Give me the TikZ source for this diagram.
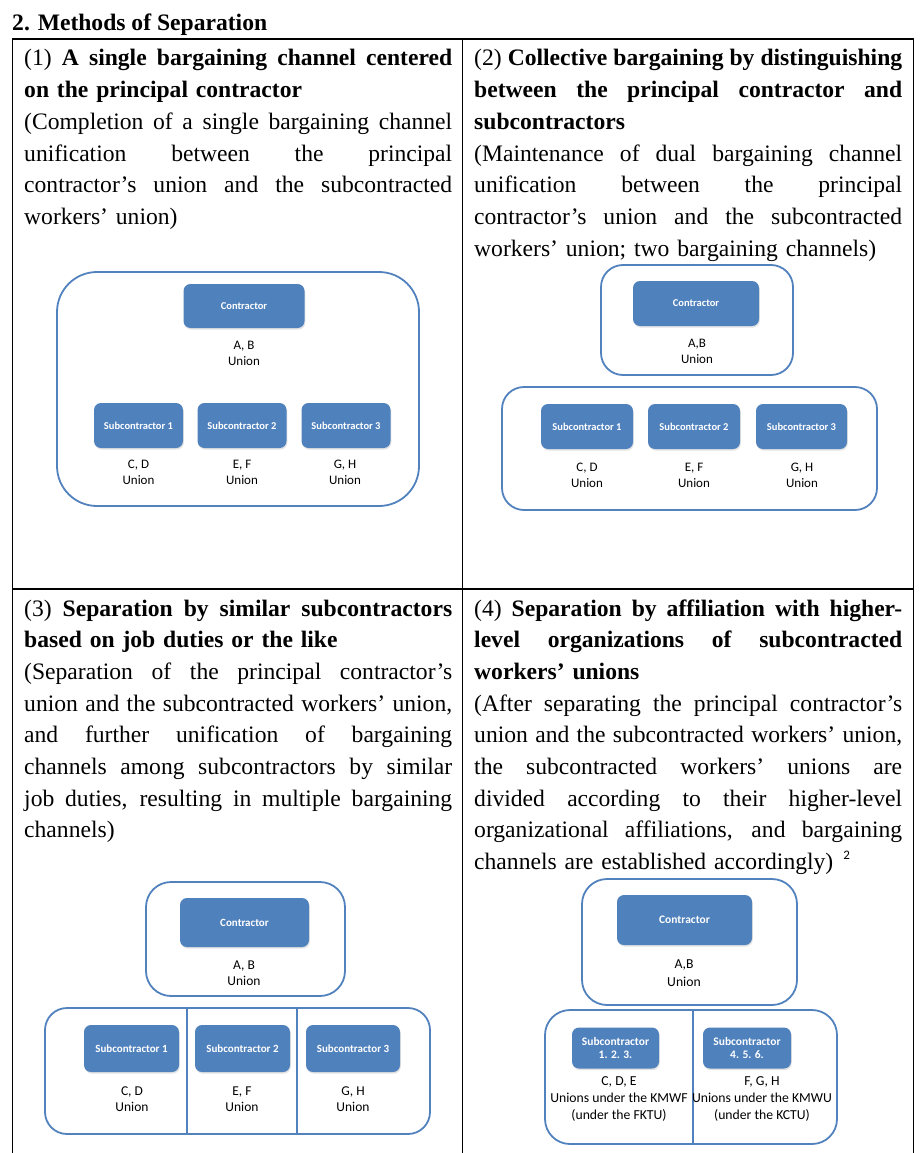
\documentclass[tikz,border=0pt]{standalone}
\usepackage{fontspec}
\setmainfont{Liberation Serif}
\newfontfamily\calfont{Carlito}
\usetikzlibrary{shadows}
\definecolor{obl}{HTML}{4F81BD}
\definecolor{oline}{HTML}{5282BE}
\newcommand{\jl}[1]{\makebox[428pt][s]{\spaceskip=0.25em plus 1em minus 0.12em\xspaceskip=0pt #1}\\}
\tikzset{
  txt/.style={anchor=base west, inner sep=0pt, text width=436pt, align=left,
    font=\fontsize{23.6}{31.7}\selectfont},
  ring/.style={draw=oline, line width=1.8pt, fill=white, inner sep=0pt},
  bluebox/.style={fill=obl, rounded corners=7pt, text=white, inner sep=0pt, align=center,
    font=\calfont\bfseries\fontsize{10.5}{13}\selectfont,
    drop shadow={opacity=0.22, shadow xshift=0.8pt, shadow yshift=-1.6pt}},
  lab/.style={font=\calfont\fontsize{13}{16}\selectfont, align=center, inner sep=0pt},
  divider/.style={draw=oline, line width=1.8pt},
  grid/.style={line width=1.3pt, black}
}
\begin{document}
\begin{tikzpicture}[x=1pt,y=-1pt]
\useasboundingbox (0,0) rectangle (920,1153);
% title
\node[anchor=base west, inner sep=0pt, font=\fontsize{23.6}{28}\selectfont\bfseries] (title) at (12,31) {2. Methods of Separation};
% table
\draw[grid] (12.5,1153) -- (12.5,39) -- (913.7,39) -- (913.7,1153);
\draw[grid] (462.5,39) -- (462.5,1153);
\draw[grid] (12.5,589) -- (913.7,589);
% cell texts
\node[txt] (t1) at (24,66) {\jl{(1) \textbf{A single bargaining channel centered}}\textbf{on the principal contractor}\\\jl{(Completion of a single bargaining channel}\jl{unification between the principal}\jl{contractor’s union and the subcontracted}workers’ union)};
\node[txt] (t2) at (474,66) {\jl{(2) \textbf{Collective bargaining by distinguishing}}\jl{\textbf{between the principal contractor and}}\textbf{subcontractors}\\\jl{(Maintenance of dual bargaining channel}\jl{unification between the principal}\jl{contractor’s union and the subcontracted}workers’ union; two bargaining channels)};
\node[txt] (t3) at (24,616) {\jl{(3) \textbf{Separation by similar subcontractors}}\textbf{based on job duties or the like}\\\jl{(Separation of the principal contractor’s}\jl{union and the subcontracted workers’ union,}\jl{and further unification of bargaining}\jl{channels among subcontractors by similar}\jl{job duties, resulting in multiple bargaining}channels)};
\node[txt] (t4) at (474,616) {\jl{(4) \textbf{Separation by affiliation with higher-}}\jl{\textbf{level organizations of subcontracted}}\textbf{workers’ unions}\\\jl{(After separating the principal contractor’s}\jl{union and the subcontracted workers’ union,}\jl{the subcontracted workers’ unions are}\jl{divided according to their higher-level}\jl{organizational affiliations, and bargaining}channels are established accordingly)\hspace{10pt}\raisebox{10pt}{\calfont\fontsize{13}{13}\selectfont 2}};
% diagram 1
\node[ring, rounded corners=40pt, minimum width=362pt, minimum height=234pt] (o1) at (238,389) {};
\node[bluebox, minimum width=121pt, minimum height=44pt] (c1) at (244,306) {Contractor};
\node[lab] (l1) at (244,353) {A, B\\Union};
\node[bluebox, minimum width=89pt, minimum height=45pt] (s11) at (138.5,425.5) {Subcontractor 1};
\node[bluebox, minimum width=89pt, minimum height=45pt] (s12) at (242,425.5) {Subcontractor 2};
\node[bluebox, minimum width=89pt, minimum height=45pt] (s13) at (346,425.5) {Subcontractor 3};
\node[lab] (l11) at (138.5,472) {C, D\\Union};
\node[lab] (l12) at (242,472) {E, F\\Union};
\node[lab] (l13) at (345,472) {G, H\\Union};
% diagram 2
\node[ring, rounded corners=22pt, minimum width=192pt, minimum height=110pt] (o2a) at (697,320) {};
\node[bluebox, minimum width=126pt, minimum height=45pt] (c2) at (696,303.5) {Contractor};
\node[lab] (l2) at (697,351.5) {A,B\\Union};
\node[ring, rounded corners=22pt, minimum width=375pt, minimum height=123pt] (o2b) at (689.5,448.5) {};
\node[bluebox, minimum width=92pt, minimum height=45pt] (s21) at (587,426.5) {Subcontractor 1};
\node[bluebox, minimum width=92pt, minimum height=45pt] (s22) at (694,426.5) {Subcontractor 2};
\node[bluebox, minimum width=91pt, minimum height=45pt] (s23) at (801.5,426.5) {Subcontractor 3};
\node[lab] (l21) at (587,475) {C, D\\Union};
\node[lab] (l22) at (694,475) {E, F\\Union};
\node[lab] (l23) at (802,475) {G, H\\Union};
% diagram 3
\node[ring, rounded corners=25pt, minimum width=199pt, minimum height=114pt] (o3a) at (245.5,939) {};
\node[bluebox, minimum width=129pt, minimum height=49pt, font=\calfont\bfseries\fontsize{11}{13}\selectfont] (c3) at (244.5,922.5) {Contractor};
\node[lab, font=\calfont\fontsize{13.5}{16}\selectfont] (l3) at (244,973) {A, B\\Union};
\node[ring, rounded corners=22pt, minimum width=385pt, minimum height=126pt] (o3b) at (237.5,1071) {};
\coordinate (d3at) at (187,1008);
\coordinate (d3ab) at (187,1134);
\coordinate (d3bt) at (297,1008);
\coordinate (d3bb) at (297,1134);
\draw[divider] (d3at) -- (d3ab);
\draw[divider] (d3bt) -- (d3bb);
\node[bluebox, minimum width=95pt, minimum height=47pt, font=\calfont\bfseries\fontsize{11}{13}\selectfont] (s31) at (131.5,1048.5) {Subcontractor 1};
\node[bluebox, minimum width=95pt, minimum height=47pt, font=\calfont\bfseries\fontsize{11}{13}\selectfont] (s32) at (242.5,1048.5) {Subcontractor 2};
\node[bluebox, minimum width=94pt, minimum height=47pt, font=\calfont\bfseries\fontsize{11}{13}\selectfont] (s33) at (353,1048.5) {Subcontractor 3};
\node[lab, font=\calfont\fontsize{13.5}{16}\selectfont] (l31) at (132,1099) {C, D\\Union};
\node[lab, font=\calfont\fontsize{13.5}{16}\selectfont] (l32) at (242,1099) {E, F\\Union};
\node[lab, font=\calfont\fontsize{13.5}{16}\selectfont] (l33) at (353,1099) {G, H\\Union};
% diagram 4
\node[ring, rounded corners=25pt, minimum width=215pt, minimum height=126pt] (o4a) at (689.5,942) {};
\node[bluebox, minimum width=135pt, minimum height=50pt, font=\calfont\bfseries\fontsize{11.5}{13}\selectfont] (c4) at (684.5,920) {Contractor};
\node[lab, font=\calfont\fontsize{13.7}{18}\selectfont] (l4) at (684,973) {A,B\\Union};
\node[ring, rounded corners=25pt, minimum width=292pt, minimum height=134pt] (o4b) at (691,1077) {};
\coordinate (d4t) at (693,1010);
\coordinate (d4b) at (693,1144);
\draw[divider] (d4t) -- (d4b);
\node[bluebox, minimum width=87pt, minimum height=41pt, font=\calfont\bfseries\fontsize{11.5}{13}\selectfont] (s41) at (615.5,1048) {Subcontractor\\1. 2. 3.};
\node[bluebox, minimum width=88pt, minimum height=41pt, font=\calfont\bfseries\fontsize{11.5}{13}\selectfont] (s42) at (747,1048) {Subcontractor\\4. 5. 6.};
\node[lab, font=\calfont\fontsize{13.7}{17}\selectfont] (l41) at (619,1099) {C, D, E\\Unions under the KMWF\\(under the FKTU)};
\node[lab, font=\calfont\fontsize{13.7}{17}\selectfont] (l42) at (762,1099) {F, G, H\\Unions under the KMWU\\(under the KCTU)};
\end{tikzpicture}
\end{document}
